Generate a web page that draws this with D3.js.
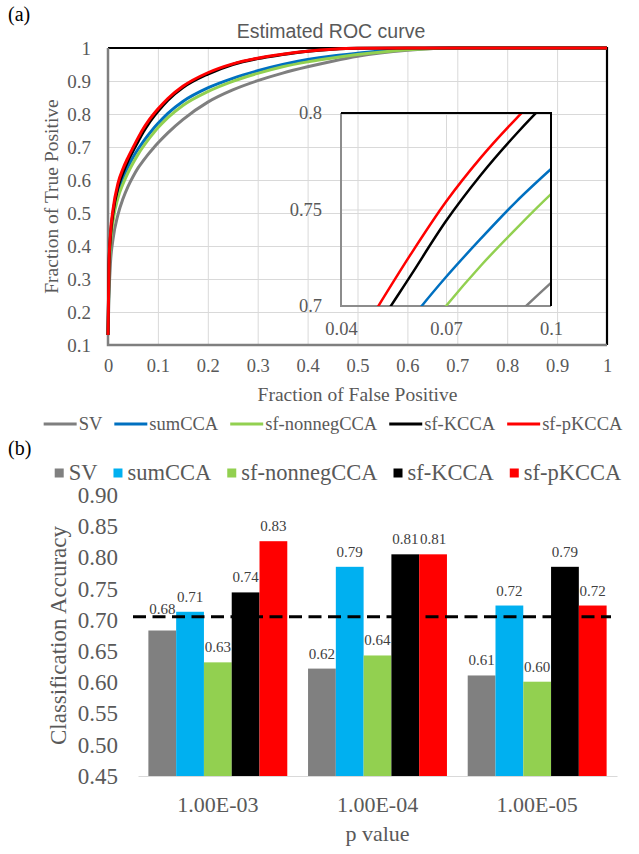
<!DOCTYPE html>
<html lang="en">
<head>
<meta charset="UTF-8">
<title>Estimated ROC curve and classification accuracy</title>
<script src="https://d3js.org/d3.v7.min.js"></script>
<style>
  body { margin: 0; background: #fff; }
  svg { display: block; }
</style>
</head>
<body>
<script>
const width = 639, height = 854;
const serif = '"Liberation Serif", "Times New Roman", "DejaVu Serif", serif';
const sans = '"Liberation Sans", Arial, sans-serif';

// ---- (a) ROC data ----
const methods = ["SV", "sumCCA", "sf-nonnegCCA", "sf-KCCA", "sf-pKCCA"];
const lineColors = ["#7f7f7f", "#0070c0", "#92d050", "#000000", "#ff0000"];
const fpr = [0, 0.002, 0.005, 0.01, 0.02, 0.03, 0.04, 0.05, 0.06, 0.07, 0.08, 0.09, 0.1,
             0.12, 0.15, 0.2, 0.25, 0.3, 0.35, 0.4, 0.45, 0.5, 0.6, 0.7, 0.8, 0.9, 1];
const tprSV      = [0.13, 0.25, 0.35, 0.42, 0.495, 0.543, 0.58, 0.61, 0.636, 0.657, 0.677, 0.695, 0.712,
                    0.743, 0.783, 0.836, 0.873, 0.901, 0.924, 0.943, 0.96, 0.975, 0.993, 1, 1, 1, 1];
const tprSumCCA  = [0.13, 0.32, 0.42, 0.49, 0.565, 0.607, 0.64, 0.668, 0.693, 0.715, 0.735, 0.754, 0.771,
                    0.802, 0.838, 0.879, 0.908, 0.931, 0.95, 0.965, 0.976, 0.984, 0.997, 1, 1, 1, 1];
const tprNonneg  = [0.13, 0.305, 0.405, 0.475, 0.546, 0.588, 0.622, 0.651, 0.677, 0.70, 0.721, 0.74, 0.758,
                    0.789, 0.826, 0.868, 0.899, 0.923, 0.943, 0.958, 0.97, 0.98, 0.995, 1, 1, 1, 1];
const tprKCCA    = [0.13, 0.34, 0.43, 0.50, 0.578, 0.622, 0.658, 0.688, 0.716, 0.744, 0.768, 0.789, 0.808,
                    0.842, 0.88, 0.921, 0.95, 0.968, 0.98, 0.99, 0.996, 0.999, 1, 1, 1, 1, 1];
const tprPKCCA   = [0.13, 0.35, 0.44, 0.51, 0.59, 0.634, 0.668, 0.698, 0.727, 0.754, 0.777, 0.797, 0.815,
                    0.847, 0.884, 0.925, 0.952, 0.969, 0.981, 0.99, 0.996, 0.999, 1, 1, 1, 1, 1];
const tprAll = [tprSV, tprSumCCA, tprNonneg, tprKCCA, tprPKCCA];
const rocXTicks = [0, 0.1, 0.2, 0.3, 0.4, 0.5, 0.6, 0.7, 0.8, 0.9, 1];
const rocYTicks = [0.1, 0.2, 0.3, 0.4, 0.5, 0.6, 0.7, 0.8, 0.9, 1];
const insetXTicks = [0.04, 0.07, 0.1];
const insetYTicks = [0.7, 0.75, 0.8];

// ---- (b) accuracy data ----
const pValues = ["1.00E-03", "1.00E-04", "1.00E-05"];
const barColors = ["#808080", "#00b0f0", "#92d050", "#000000", "#ff0000"];
const accSV     = [0.683, 0.622, 0.611];
const accSumCCA = [0.713, 0.785, 0.723];
const accNonneg = [0.632, 0.643, 0.601];
const accKCCA   = [0.744, 0.805, 0.785];
const accPKCCA  = [0.826, 0.805, 0.723];
const accAll = [accSV, accSumCCA, accNonneg, accKCCA, accPKCCA];
const accTicks = [0.45, 0.50, 0.55, 0.60, 0.65, 0.70, 0.75, 0.80, 0.85, 0.90];
const chanceLine = 0.705;

const svg = d3.select("body").append("svg")
    .attr("width", width)
    .attr("height", height);

const grey = "#595959";

function styleText(sel, size, fill) {
    sel.style("font-family", serif).attr("font-size", size).attr("fill", fill || grey);
}

// ================= (a) =================
svg.append("text")
    .attr("x", 8).attr("y", 21)
    .call(styleText, 20, "#000")
    .text("(a)");

svg.append("text")
    .attr("x", 331).attr("y", 38)
    .attr("text-anchor", "middle")
    .style("font-family", sans)
    .attr("font-size", 19.5).attr("fill", grey)
    .text("Estimated ROC curve");

const x = d3.scaleLinear([0, 1], [108, 607]);
const y = d3.scaleLinear([0.1, 1], [345, 48]);

// gridlines
svg.append("g")
    .attr("transform", `translate(0,${y(0.1)})`)
    .call(d3.axisBottom(x).tickValues(rocXTicks).tickSize(-(y(0.1) - y(1))).tickFormat(""))
    .call(g => g.select(".domain").remove())
    .call(g => g.selectAll("line").attr("stroke", "#d9d9d9"));
svg.append("g")
    .attr("transform", `translate(${x(0)},0)`)
    .call(d3.axisLeft(y).tickValues(rocYTicks).tickSize(-(x(1) - x(0))).tickFormat(""))
    .call(g => g.select(".domain").remove())
    .call(g => g.selectAll("line").attr("stroke", "#d9d9d9"));

// tick labels
svg.append("g")
    .attr("transform", `translate(0,${y(0.1) + 11})`)
    .call(d3.axisBottom(x).tickValues(rocXTicks).tickSize(0).tickFormat(d => String(d)))
    .call(g => g.select(".domain").remove())
    .call(g => g.selectAll("text").call(styleText, 18.5));
svg.append("g")
    .attr("transform", `translate(${x(0) - 14},0)`)
    .call(d3.axisLeft(y).tickValues(rocYTicks).tickSize(0).tickFormat(d => String(d)))
    .call(g => g.select(".domain").remove())
    .call(g => g.selectAll("text").call(styleText, 19));

// frame: black top/right, grey left/bottom
svg.append("path")
    .attr("d", `M${x(0)},${y(1)}H${x(1)}V${y(0.1)}`)
    .attr("fill", "none").attr("stroke", "#000").attr("stroke-width", 2.2);
svg.append("path")
    .attr("d", `M${x(0)},${y(1)}V${y(0.1)}H${x(1)}`)
    .attr("fill", "none").attr("stroke", "#7f7f7f").attr("stroke-width", 2.5);

// axis titles
svg.append("text")
    .attr("transform", `translate(58,${(y(0.1) + y(1)) / 2}) rotate(-90)`)
    .attr("text-anchor", "middle")
    .call(styleText, 19.5)
    .text("Fraction of True Positive");
svg.append("text")
    .attr("x", (x(0) + x(1)) / 2).attr("y", 401)
    .attr("text-anchor", "middle")
    .call(styleText, 19.5)
    .text("Fraction of False Positive");

// main curves
const line = d3.line()
    .x((d, i) => x(fpr[i]))
    .y(d => y(d))
    .curve(d3.curveMonotoneX);
svg.append("g").selectAll("path")
    .data(tprAll)
    .join("path")
    .attr("d", line)
    .attr("fill", "none")
    .attr("stroke", (d, i) => lineColors[i])
    .attr("stroke-width", 3)
    .attr("stroke-linejoin", "round");

// inset
const ix = d3.scaleLinear([0.04, 0.1], [341, 551]);
const iy = d3.scaleLinear([0.7, 0.8], [306, 113]);
const inset = svg.append("g");

inset.append("g")
    .attr("transform", `translate(0,${iy(0.7)})`)
    .call(d3.axisBottom(ix).tickValues(insetXTicks).tickSize(-(iy(0.7) - iy(0.8))).tickFormat(""))
    .call(g => g.select(".domain").remove())
    .call(g => g.selectAll("line").attr("stroke", "#d9d9d9"));
inset.append("g")
    .attr("transform", `translate(${ix(0.04)},0)`)
    .call(d3.axisLeft(iy).tickValues(insetYTicks).tickSize(-(ix(0.1) - ix(0.04))).tickFormat(""))
    .call(g => g.select(".domain").remove())
    .call(g => g.selectAll("line").attr("stroke", "#d9d9d9"));

inset.append("g")
    .attr("transform", `translate(0,${iy(0.7) + 13})`)
    .call(d3.axisBottom(ix).tickValues(insetXTicks).tickSize(0).tickFormat(d => String(d)))
    .call(g => g.select(".domain").remove())
    .call(g => g.selectAll("text").call(styleText, 18.5));
inset.append("g")
    .attr("transform", `translate(${ix(0.04) - 16},0)`)
    .call(d3.axisLeft(iy).tickValues(insetYTicks).tickSize(0).tickFormat(d => String(d)))
    .call(g => g.select(".domain").remove())
    .call(g => g.selectAll("text").call(styleText, 18.5));

svg.append("clipPath").attr("id", "inset-clip")
    .append("rect")
    .attr("x", ix(0.04)).attr("y", iy(0.8))
    .attr("width", ix(0.1) - ix(0.04)).attr("height", iy(0.7) - iy(0.8));

inset.append("path")
    .attr("d", `M${ix(0.04)},${iy(0.8)}V${iy(0.7)}H${ix(0.1)}`)
    .attr("fill", "none").attr("stroke", "#8c8c8c").attr("stroke-width", 2);

const insetLine = d3.line()
    .x((d, i) => ix(fpr[i]))
    .y(d => iy(d))
    .curve(d3.curveMonotoneX);
inset.append("g").attr("clip-path", "url(#inset-clip)")
    .selectAll("path")
    .data(tprAll)
    .join("path")
    .attr("d", insetLine)
    .attr("fill", "none")
    .attr("stroke", (d, i) => lineColors[i])
    .attr("stroke-width", 2.5);

inset.append("path")
    .attr("d", `M${ix(0.04)},${iy(0.8)}H${ix(0.1)}V${iy(0.7)}`)
    .attr("fill", "none").attr("stroke", "#000").attr("stroke-width", 2);

// legends, laid out from measured text widths and centred
function legend(yPos, fontSize, drawKey, keyW, gap, centerX) {
    const g = svg.append("g");
    let cx = 0;
    methods.forEach((m, i) => {
        const item = g.append("g").attr("transform", `translate(${cx},0)`);
        drawKey(item, i);
        const t = item.append("text")
            .attr("x", keyW).attr("y", 0).attr("dy", "0.33em")
            .call(styleText, fontSize)
            .text(m);
        cx += keyW + t.node().getComputedTextLength() + gap;
    });
    const total = cx - gap;
    g.attr("transform", `translate(${centerX - total / 2},${yPos})`);
}

legend(424, 18.5, (g, i) => {
    g.append("line").attr("x1", 0).attr("x2", 33).attr("y1", 0).attr("y2", 0)
        .attr("stroke", lineColors[i]).attr("stroke-width", 3);
}, 35, 12, 333);

// ================= (b) =================
svg.append("text")
    .attr("x", 8).attr("y", 455)
    .call(styleText, 20, "#000")
    .text("(b)");

legend(473, 22.5, (g, i) => {
    g.append("rect").attr("x", 0).attr("y", -4.5).attr("width", 9).attr("height", 9)
        .attr("fill", barColors[i]);
}, 14, 16, 338);

const gx = d3.scaleBand(pValues, [138, 617]).paddingInner(0.13).paddingOuter(0.065);
const sx = d3.scaleBand(methods, [0, gx.bandwidth()]);
const by = d3.scaleLinear([0.45, 0.90], [776, 495]);

svg.append("g")
    .attr("transform", "translate(118,0)")
    .call(d3.axisLeft(by).tickValues(accTicks).tickSize(0).tickFormat(d3.format(".2f")))
    .call(g => g.select(".domain").remove())
    .call(g => g.selectAll("text").call(styleText, 23).attr("x", 0));

const groups = svg.append("g").selectAll("g")
    .data(pValues)
    .join("g")
    .attr("transform", p => `translate(${gx(p)},0)`);

const cells = (p, gi) => methods.map((m, mi) => ({ m, mi, v: accAll[mi][gi] }));

groups.selectAll("rect")
    .data(cells)
    .join("rect")
    .attr("x", d => sx(d.m))
    .attr("width", sx.bandwidth())
    .attr("y", d => by(d.v))
    .attr("height", d => by(0.45) - by(d.v))
    .attr("fill", d => barColors[d.mi]);

// value labels sit above the bar; one that would cross the dashed line is lifted over it
const lineY = by(chanceLine);
function labelY(v) {
    const yy = by(v) - 10;
    return (yy > lineY - 4 && yy < lineY + 16) ? lineY - 3 : yy;
}
groups.selectAll("text")
    .data(cells)
    .join("text")
    .attr("x", d => sx(d.m) + sx.bandwidth() / 2)
    .attr("y", d => labelY(d.v))
    .attr("text-anchor", "middle")
    .call(styleText, 15, "#404040")
    .text(d => d3.format(".2f")(d.v));

// x axis line + category labels
svg.append("g")
    .attr("transform", `translate(0,${by(0.45)})`)
    .call(d3.axisBottom(gx).tickSize(0).tickPadding(20))
    .call(g => g.select(".domain").attr("stroke", "#d9d9d9").attr("stroke-width", 1.2))
    .call(g => g.selectAll("text").call(styleText, 22));

// reference dashed line
svg.append("line")
    .attr("x1", 133).attr("x2", 611)
    .attr("y1", lineY).attr("y2", lineY)
    .attr("stroke", "#000").attr("stroke-width", 3)
    .attr("stroke-dasharray", "13,6.5");

svg.append("text")
    .attr("transform", `translate(66,${(by(0.45) + by(0.9)) / 2}) rotate(-90)`)
    .attr("text-anchor", "middle")
    .call(styleText, 23)
    .text("Classification Accuracy");
svg.append("text")
    .attr("x", (gx.range()[0] + gx.range()[1]) / 2).attr("y", 841)
    .attr("text-anchor", "middle")
    .call(styleText, 22)
    .text("p value");
</script>
</body>
</html>
